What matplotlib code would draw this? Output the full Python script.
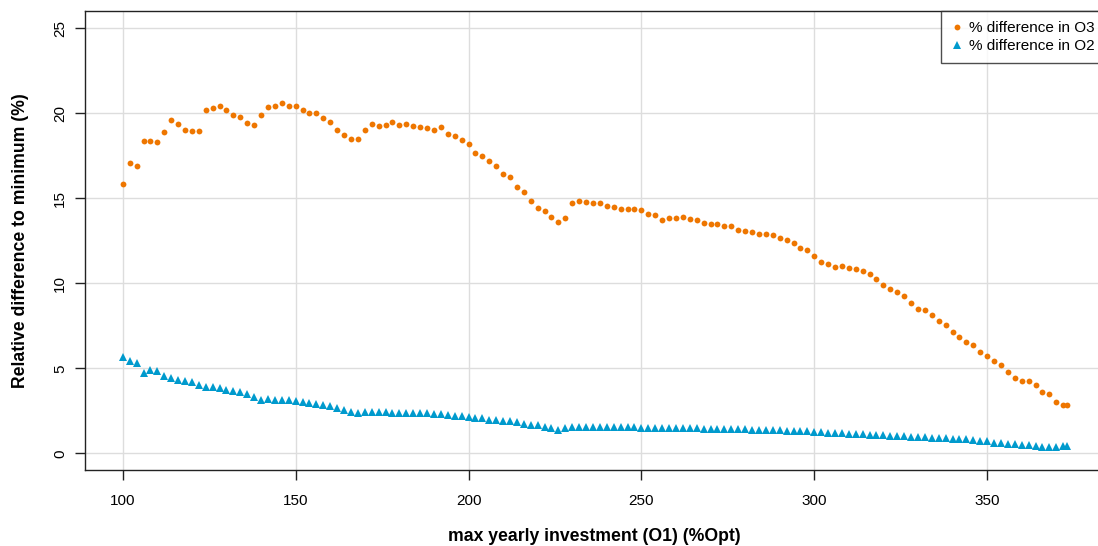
import numpy as np
import matplotlib
matplotlib.use("Agg")
import matplotlib.pyplot as plt

plt.rcParams['font.family'] = ['Liberation Sans', 'DejaVu Sans']

# max yearly investment levels (%Opt)
invest = np.append(np.arange(100, 373, 2), 373)

diff_o3 = [15.82, 17.08, 16.92, 18.35, 18.35, 18.31, 18.88, 19.59, 19.35, 19.04,
           18.96, 18.98, 20.18, 20.33, 20.43, 20.19, 19.88, 19.78, 19.41, 19.33,
           19.88, 20.37, 20.45, 20.63, 20.45, 20.41, 20.18, 20.00, 20.04, 19.72,
           19.47, 19.02, 18.71, 18.47, 18.47, 19.00, 19.37, 19.24, 19.31, 19.47,
           19.33, 19.39, 19.25, 19.18, 19.12, 19.02, 19.18, 18.80, 18.65, 18.41,
           18.20, 17.69, 17.47, 17.22, 16.88, 16.45, 16.27, 15.65, 15.37, 14.84,
           14.43, 14.24, 13.90, 13.61, 13.86, 14.73, 14.84, 14.76, 14.71, 14.75,
           14.53, 14.51, 14.39, 14.39, 14.39, 14.31, 14.10, 14.04, 13.73, 13.82,
           13.82, 13.90, 13.78, 13.75, 13.55, 13.49, 13.47, 13.35, 13.37, 13.16,
           13.10, 13.00, 12.90, 12.92, 12.86, 12.65, 12.57, 12.37, 12.10, 11.94,
           11.61, 11.26, 11.12, 10.98, 11.02, 10.88, 10.86, 10.71, 10.55, 10.27,
           9.92, 9.69, 9.49, 9.27, 8.84, 8.51, 8.43, 8.16, 7.78, 7.57,
           7.14, 6.84, 6.57, 6.39, 5.98, 5.71, 5.43, 5.18, 4.80, 4.41,
           4.27, 4.24, 4.04, 3.63, 3.51, 3.04, 2.86, 2.86]

diff_o2 = [5.66, 5.41, 5.33, 4.75, 4.92, 4.84, 4.53, 4.41, 4.33, 4.25,
           4.20, 4.04, 3.92, 3.92, 3.86, 3.75, 3.69, 3.63, 3.49, 3.31,
           3.12, 3.18, 3.12, 3.12, 3.12, 3.06, 3.04, 2.96, 2.92, 2.86,
           2.78, 2.67, 2.55, 2.45, 2.35, 2.41, 2.41, 2.43, 2.41, 2.39,
           2.39, 2.37, 2.37, 2.35, 2.35, 2.31, 2.29, 2.24, 2.22, 2.18,
           2.12, 2.06, 2.06, 1.98, 1.94, 1.92, 1.88, 1.82, 1.75, 1.69,
           1.65, 1.57, 1.47, 1.39, 1.47, 1.55, 1.55, 1.55, 1.57, 1.57,
           1.57, 1.57, 1.55, 1.55, 1.53, 1.51, 1.51, 1.51, 1.49, 1.49,
           1.49, 1.49, 1.47, 1.47, 1.45, 1.45, 1.45, 1.43, 1.43, 1.41,
           1.41, 1.39, 1.39, 1.37, 1.37, 1.35, 1.33, 1.33, 1.31, 1.29,
           1.27, 1.25, 1.22, 1.20, 1.18, 1.16, 1.14, 1.12, 1.10, 1.08,
           1.06, 1.04, 1.02, 1.00, 0.98, 0.96, 0.94, 0.92, 0.90, 0.88,
           0.86, 0.84, 0.82, 0.80, 0.75, 0.71, 0.63, 0.61, 0.57, 0.57,
           0.51, 0.47, 0.43, 0.39, 0.35, 0.35, 0.41, 0.41]

xticks = [100, 150, 200, 250, 300, 350]
yticks = [0, 5, 10, 15, 20, 25]

W, H = 1098, 546
fig = plt.figure(figsize=(W / 100, H / 100), dpi=100)
# plot region runs a bit past the right edge, like the source
ax = fig.add_axes([85 / W, (H - 470.3) / H, (1104.4 - 85) / W, 459 / H])

ax.set_xlim(89.08, 383.92)
ax.set_ylim(-1, 26)
ax.set_xticks(xticks)
ax.set_yticks(yticks)
ax.grid(True, color='#dddddd', linewidth=1)
ax.set_axisbelow(True)

ax.plot(invest, diff_o3, linestyle='none', marker='o', markersize=4.2,
        color='#EE7600', markeredgewidth=0, label='% difference in O3')
ax.plot(invest, diff_o2, linestyle='none', marker='^', markersize=5.2,
        color='#009ACD', markeredgewidth=0, label='% difference in O2')

for side in ['left', 'bottom', 'top', 'right']:
    ax.spines[side].set_color('#222222')
    ax.spines[side].set_linewidth(1)

ax.tick_params(axis='both', direction='out', length=7, width=1, color='#222222',
               labelsize=11)
ax.tick_params(axis='x', pad=10)
ax.tick_params(axis='y', pad=6)
for lab in ax.get_yticklabels():
    lab.set_rotation(90)
    lab.set_verticalalignment('center')

ax.set_xlabel('max yearly investment (O1) (%Opt)', fontsize=12.7, fontweight='bold',
              labelpad=14.5)
ax.set_ylabel('Relative difference to minimum (%)', fontsize=12.7, fontweight='bold',
              labelpad=17.5)

leg = ax.legend(loc='upper right', fontsize=11, frameon=True, fancybox=False,
                borderaxespad=0, handletextpad=0.4, handlelength=0.8,
                borderpad=0.65, labelspacing=0.25)
leg.get_frame().set_edgecolor('#222222')
leg.get_frame().set_linewidth(1)

fig.savefig('out.png', dpi=100)
